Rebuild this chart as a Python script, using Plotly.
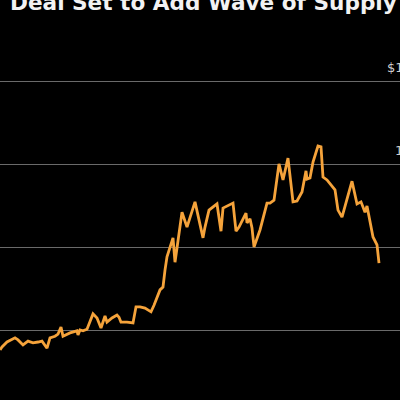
import plotly.graph_objects as go

# Data (x: time step, y: price)
t = [0, 2, 7, 15, 18, 23, 28, 33, 38, 42, 47, 50, 55, 58, 61, 63, 70, 77, 78, 80,
     83, 87, 93, 97, 101, 105, 107, 112, 117, 119, 121, 127, 133, 136, 140, 145, 151, 154, 160, 163,
     165, 167, 173, 175, 182, 187, 195, 203, 205, 209, 217, 221, 223, 233, 236, 239, 246, 247, 250, 252,
     254, 260, 267, 270, 274, 279, 283, 288, 293, 297, 302, 306, 307, 310, 313, 318, 321, 323, 327, 335,
     338, 342, 352, 357, 361, 365, 367, 373, 377, 379]
price = [55.2, 55.9, 57.1, 58.1, 57.6, 56.4, 57.3, 56.9, 57.1, 57.3, 55.6, 58.1, 58.5, 59.0, 60.7, 58.5, 59.3, 59.8, 58.8, 60.0,
         59.8, 60.2, 63.9, 62.9, 60.5, 63.4, 61.9, 62.9, 63.6, 63.1, 61.9, 61.9, 61.7, 65.6, 65.6, 65.3, 64.4, 66.0, 69.7, 70.4,
         74.5, 77.7, 82.3, 76.4, 88.5, 84.9, 91.0, 82.3, 84.9, 89.0, 90.5, 83.9, 89.5, 90.7, 83.9, 84.9, 88.3, 85.9, 86.9, 84.7,
         80.1, 84.2, 90.7, 90.7, 91.4, 100.2, 96.3, 101.6, 91.0, 91.2, 93.4, 98.5, 96.5, 96.8, 100.6, 104.5, 104.3, 97.0, 96.3, 93.9,
         89.0, 87.3, 96.0, 90.5, 91.0, 88.5, 90.0, 82.5, 80.6, 76.2]

tick_vals = [120, 100, 80, 60]
tick_text = ["$120", "100", "80", "60"]
title = "Deal Set to Add Wave of Supply"

fig = go.Figure()
fig.add_trace(go.Scatter(x=t, y=price, mode="lines",
                         line=dict(color="#f5a33b", width=2.8),
                         hoverinfo="skip"))

annotations = [dict(text="<b>" + title + "</b>", xref="paper", yref="paper",
                    x=0.02, y=0.995, xanchor="left", yanchor="middle",
                    showarrow=False, font=dict(family="DejaVu Sans", size=21.6, color="#f2f2f2"))]
for v, s in zip(tick_vals, tick_text):
    annotations.append(dict(text=s, xref="paper", yref="y", x=1.056, y=v,
                            xanchor="right", yanchor="middle", yshift=14,
                            showarrow=False,
                            font=dict(family="DejaVu Sans", size=13, color="#d0d0d0")))

fig.update_layout(
    width=400, height=400,
    margin=dict(l=0, r=0, t=0, b=0),
    paper_bgcolor="#000000", plot_bgcolor="#000000",
    showlegend=False,
    xaxis=dict(range=[0, 400], visible=False, fixedrange=True),
    yaxis=dict(range=[43.07, 139.83], tickvals=tick_vals, showticklabels=False,
               showgrid=True, gridcolor="#6a6a6a", gridwidth=1, zeroline=False,
               showline=False, fixedrange=True),
    annotations=annotations,
)
fig.write_html("out.html", config={"displayModeBar": False})
